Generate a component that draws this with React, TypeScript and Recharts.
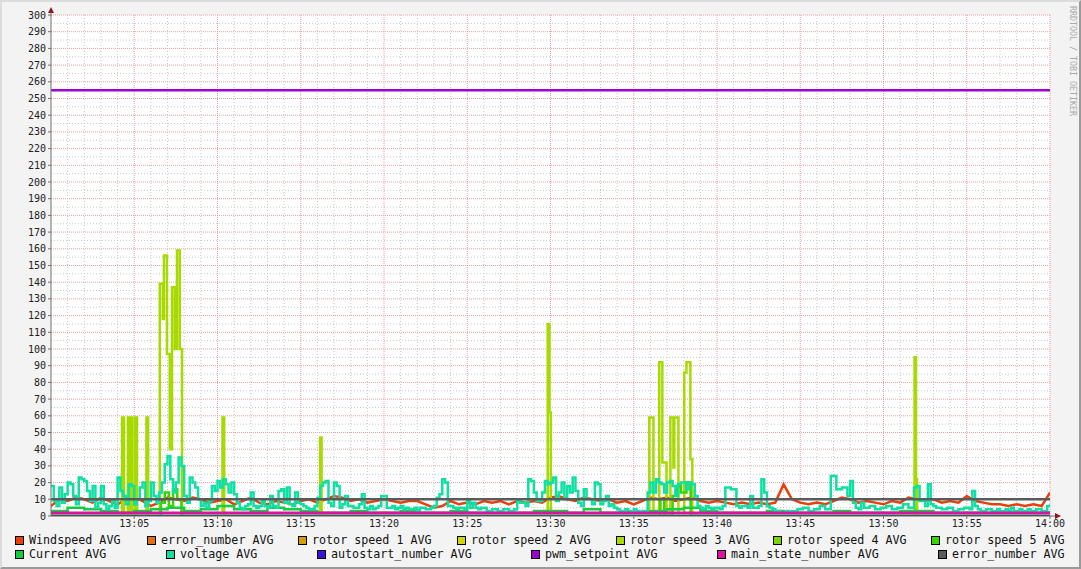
import { LineChart, Line, XAxis, YAxis, CartesianGrid } from "recharts";

const MONO = '"DejaVu Sans Mono", "Liberation Mono", monospace';

// time axis in seconds after 13:00
const xTicks = [300, 600, 900, 1200, 1500, 1800, 2100, 2400, 2700, 3000, 3300, 3600];
const xTickLabels = ["13:05", "13:10", "13:15", "13:20", "13:25", "13:30", "13:35", "13:40", "13:45", "13:50", "13:55", "14:00"];
const yTicks = [0, 10, 20, 30, 40, 50, 60, 70, 80, 90, 100, 110, 120, 130, 140, 150, 160, 170, 180, 190, 200, 210, 220, 230, 240, 250, 260, 270, 280, 290, 300];

// minor grid: every minute / every 5 units
const xMinor: number[] = [];
for (let s = 60; s < 3600; s += 60) if (s % 300 !== 0) xMinor.push(s);
const yMinor: number[] = [];
for (let v = 5; v < 300; v += 10) yMinor.push(v);

// voltage, one value every 10 s
const voltage = [
  18, 9, 6, 17, 8, 13, 20, 19, 12, 7, 23, 22, 21, 15, 9, 18, 5, 8, 18, 7,
  4, 6, 10, 5, 23, 15, 12, 7, 19, 18, 7, 10, 17, 20, 6, 9, 20, 12, 8, 14,
  20, 31, 36, 22, 14, 20, 35, 30, 12, 8, 23, 20, 17, 10, 6, 8, 5, 9, 18, 15,
  21, 17, 22, 19, 14, 20, 13, 8, 5, 4, 6, 7, 14, 6, 5, 6, 9, 6, 5, 12,
  6, 5, 15, 16, 8, 17, 7, 6, 14, 8, 7, 6, 5, 4, 4, 6, 11, 18, 20, 21,
  8, 6, 20, 18, 5, 7, 12, 6, 6, 5, 5, 7, 13, 5, 4, 6, 4, 5, 6, 12,
  12, 5, 5, 6, 4, 5, 6, 4, 5, 4, 4, 5, 3, 5, 5, 4, 4, 5, 6, 11,
  13, 22, 20, 6, 6, 5, 4, 5, 5, 4, 9, 5, 8, 5, 4, 5, 5, 3, 3, 4,
  4, 3, 3, 4, 4, 3, 3, 4, 9, 8, 8, 6, 22, 21, 14, 9, 9, 14, 21, 19,
  20, 23, 9, 14, 20, 10, 18, 14, 23, 15, 8, 6, 16, 10, 10, 7, 20, 19, 7, 9,
  12, 6, 7, 5, 4, 3, 3, 4, 3, 2, 4, 3, 2, 3, 3, 14, 20, 14, 22, 20,
  19, 14, 20, 21, 18, 12, 19, 20, 20, 16, 20, 19, 12, 6, 5, 4, 6, 5, 4, 5,
  5, 4, 6, 17, 17, 16, 16, 6, 5, 6, 6, 5, 12, 5, 5, 6, 22, 14, 6, 5,
  4, 3, 3, 2, 2, 3, 2, 3, 3, 4, 4, 5, 5, 3, 3, 4, 4, 6, 6, 4,
  4, 24, 24, 16, 16, 17, 17, 12, 21, 8, 5, 4, 8, 5, 5, 6, 6, 4, 4, 5,
  5, 6, 6, 4, 4, 5, 5, 7, 7, 5, 5, 17, 18, 9, 9, 6, 19, 7, 6, 5,
  5, 4, 4, 5, 5, 3, 3, 4, 4, 5, 5, 4, 15, 6, 4, 3, 3, 4, 4, 3,
  3, 4, 3, 3, 4, 3, 5, 3, 3, 4, 3, 3, 4, 3, 3, 4, 4, 3, 3, 6,
  7,
];

// windspeed, one value every 30 s
const windspeed = [
  6, 10, 9, 11, 10, 8, 11, 9, 7, 10, 11, 9, 6, 8, 11, 10, 9, 11, 10, 8,
  9, 10, 7, 9, 11, 8, 7, 9, 8, 7, 9, 10, 8, 10, 12, 11, 9, 10, 8, 9,
  10, 9, 8, 9, 9, 7, 5, 6, 9, 7, 8, 7, 9, 8, 9, 7, 9, 8, 9, 8,
  11, 12, 10, 9, 11, 10, 9, 10, 8, 9, 7, 9, 11, 10, 11, 9, 10, 11, 9, 8,
  9, 8, 7, 8, 7, 8, 7, 8, 19, 10, 8, 7, 8, 7, 9, 11, 10, 8, 9, 8,
  7, 9, 8, 11, 10, 9, 10, 8, 9, 8, 12, 9, 8, 7, 7, 6, 7, 6, 7, 6, 14,
];

// current, one value every 60 s
const current = [
  3, 5, 4, 3, 2, 3, 4, 5, 3, 4, 6, 4, 3, 5, 4, 3, 2, 2, 3, 2,
  2, 3, 2, 2, 3, 2, 2, 2, 2, 3, 3, 2, 4, 2, 2, 2, 3, 4, 5, 3,
  2, 2, 2, 3, 2, 2, 2, 3, 2, 2, 2, 3, 3, 2, 2, 2, 2, 2, 2, 2, 3,
];

// rotor speed 3: change points (s) and values
const rotor3Times = [
  0, 256, 263, 277, 283, 286, 292, 302, 310, 344, 350, 392, 403, 407, 418, 428, 436, 446, 454, 464, 472,
  618, 624, 970, 975, 1790, 1796, 1801, 2156, 2171, 2192, 2203, 2218, 2232, 2243, 2246, 2261,
  2282, 2290, 2304, 2311, 3112, 3117, 3121, 3600,
];
const rotor3Values = [
  0, 59, 0, 59, 0, 59, 0, 59, 0, 59, 0, 139, 118, 156, 97, 40, 137, 100, 159, 100, 0,
  59, 0, 47, 0, 115, 62, 0, 59, 0, 92, 32, 0, 59, 29, 59, 0,
  86, 92, 34, 0, 95, 22, 0, 0,
];

// rotor speed 5: change points (s) and values
const rotor5Times = [0, 396, 410, 425, 440, 455, 470, 2196, 2210, 2240, 2255, 2270, 2290, 2305, 3600];
const rotor5Values = [0, 8, 14, 6, 16, 10, 0, 10, 0, 12, 18, 14, 20, 0, 0];

// flat series over the whole hour
const fullHour = [0, 3600];
const errorNumber1 = [0, 0];
const rotor1 = [0, 0];
const rotor2 = [0, 0];
const rotor4 = [0, 0];
const autostart = [0, 0];
const pwmSetpoint = [255, 255];
const mainState = [2, 2];
const errorNumber = [10, 10];

const every = (vals: number[], step: number) => vals.map((v, i) => ({ t: i * step, v }));
const at = (times: number[], vals: number[]) => times.map((t, i) => ({ t, v: vals[i] }));

const SERIES = [
  { name: "Windspeed AVG", color: "#e8400c", data: every(windspeed, 30), step: false },
  { name: "error_number AVG", color: "#e07010", data: at(fullHour, errorNumber1), step: true },
  { name: "rotor speed 1 AVG", color: "#d4a000", data: at(fullHour, rotor1), step: true },
  { name: "rotor speed 2 AVG", color: "#d4d40a", data: at(fullHour, rotor2), step: true },
  { name: "rotor speed 3 AVG", color: "#a6da00", data: at(rotor3Times, rotor3Values), step: true },
  { name: "rotor speed 4 AVG", color: "#7cd400", data: at(fullHour, rotor4), step: true },
  { name: "rotor speed 5 AVG", color: "#3cd400", data: at(rotor5Times, rotor5Values), step: true },
  { name: "Current AVG", color: "#10d040", data: every(current, 60), step: true },
  { name: "voltage AVG", color: "#0ee0a4", data: every(voltage, 10), step: true },
  { name: "autostart_number AVG", color: "#3c10d8", data: at(fullHour, autostart), step: true },
  { name: "pwm_setpoint AVG", color: "#a000d0", data: at(fullHour, pwmSetpoint), step: true },
  { name: "main_state_number AVG", color: "#e010a0", data: at(fullHour, mainState), step: true },
  { name: "error_number AVG", color: "#5a5a5a", data: at(fullHour, errorNumber), step: true },
];

const legendRow1X = [15, 147, 298, 457, 616, 773, 931];
const legendRow2X = [15, 166, 317, 531, 717, 938];

function LegendItem({ name, color, x, y }: { name: string; color: string; x: number; y: number }) {
  return (
    <div style={{ position: "absolute", left: x, top: y, display: "flex", alignItems: "center", height: 12 }}>
      <div style={{ width: 9, height: 9, boxSizing: "border-box", border: "1px solid #000", background: color }} />
      <span style={{ marginLeft: 5, fontFamily: MONO, fontSize: 11.7, color: "#111", whiteSpace: "pre" }}>{name}</span>
    </div>
  );
}

export default function App() {
  return (
    <div style={{ position: "absolute", left: 0, top: 0, width: 1081, height: 569, background: "#f3f3f3", overflow: "hidden" }}>
      <LineChart width={1081} height={569} margin={{ top: 15, right: 31, bottom: 33, left: 0 }}>
        <CartesianGrid horizontalValues={yMinor} verticalValues={xMinor} stroke="#c8c8c8" strokeDasharray="1 2" fill="#ffffff" fillOpacity={1} />
        <CartesianGrid horizontalValues={yTicks} verticalValues={xTicks} stroke="#eca0a0" strokeDasharray="1 1" />
        <XAxis
          type="number"
          dataKey="t"
          domain={[0, 3600]}
          ticks={xTicks}
          interval={0}
          allowDataOverflow
          tickFormatter={(v: number) => xTickLabels[xTicks.indexOf(v)]}
          height={20}
          tickSize={3}
          tickMargin={1}
          axisLine={{ stroke: "#707070" }}
          tickLine={{ stroke: "#707070" }}
          tick={{ fontSize: 10, fill: "#222", fontFamily: MONO }}
        />
        <YAxis
          type="number"
          domain={[0, 300]}
          ticks={yTicks}
          interval={0}
          allowDataOverflow
          width={51}
          tickSize={3}
          tickMargin={2}
          axisLine={{ stroke: "#707070" }}
          tickLine={{ stroke: "#707070" }}
          tick={{ fontSize: 10, fill: "#222", fontFamily: MONO }}
        />
        {SERIES.map((s, i) => (
          <Line
            key={i}
            data={s.data}
            dataKey="v"
            type={s.step ? "stepAfter" : "linear"}
            stroke={s.color}
            strokeWidth={2.5}
            strokeLinejoin="miter"
            dot={false}
            activeDot={false}
            isAnimationActive={false}
          />
        ))}
      </LineChart>

      {/* axis arrows */}
      <svg width={1081} height={569} style={{ position: "absolute", left: 0, top: 0, pointerEvents: "none" }}>
        <line x1={51} y1={12} x2={51} y2={16} stroke="#707070" />
        <polygon points="51,7 48,13 54,13" fill="#8b1a1a" />
        <line x1={1050} y1={516} x2={1055} y2={516} stroke="#707070" />
        <polygon points="1061,516 1055,513 1055,519" fill="#8b1a1a" />
      </svg>

      <div style={{ position: "absolute", left: 1068, top: 6, writingMode: "vertical-rl", fontFamily: MONO, fontSize: 8.3, color: "#aaa", whiteSpace: "pre" }}>
        RRDTOOL / TOBI OETIKER
      </div>

      {SERIES.slice(0, 7).map((s, i) => (
        <LegendItem key={s.name + i} name={s.name} color={s.color} x={legendRow1X[i]} y={534} />
      ))}
      {SERIES.slice(7).map((s, i) => (
        <LegendItem key={s.name + i} name={s.name} color={s.color} x={legendRow2X[i]} y={548} />
      ))}

      <div style={{ position: "absolute", left: 0, top: 0, width: 1081, height: 569, boxSizing: "border-box", borderTop: "2px solid #dcdcdc", borderLeft: "2px solid #dcdcdc", borderRight: "2px solid #9a9a9a", borderBottom: "2px solid #9a9a9a", pointerEvents: "none" }} />
    </div>
  );
}
